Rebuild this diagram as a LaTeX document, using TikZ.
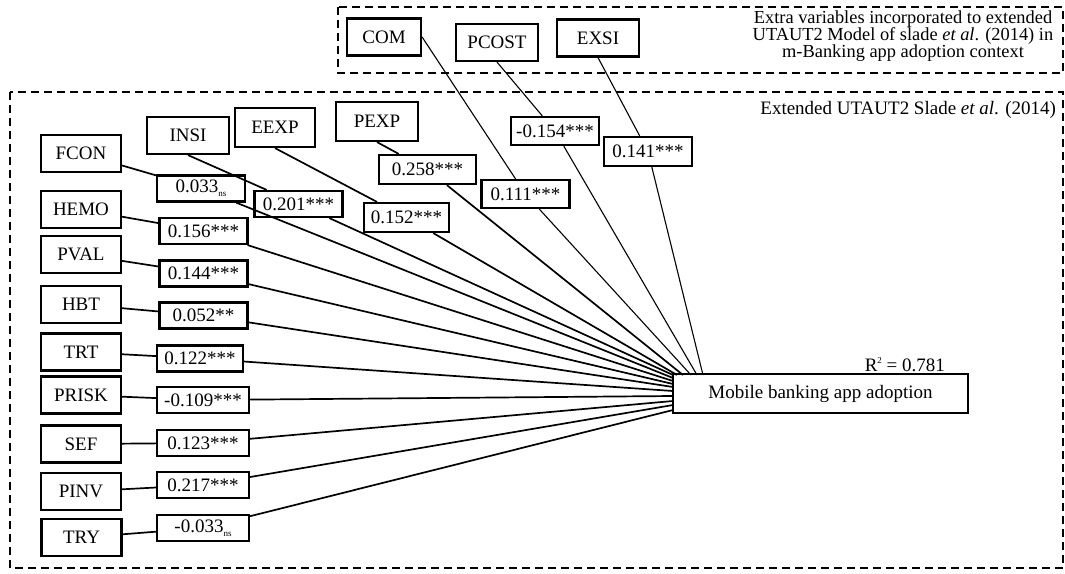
\documentclass[tikz,border=0pt]{standalone}
\usepackage{fontspec}
\setmainfont{Liberation Serif}
\usepackage{tikz}

\newcommand{\nsub}{\raisebox{-0.5ex}{\fontsize{4.5}{4.5}\selectfont ns}}
\newcommand{\rtwo}{\raisebox{0.9ex}{\fontsize{4.5}{4.5}\selectfont 2}}

\begin{document}
\begin{tikzpicture}[x=0.5pt,y=-0.5pt,
    var/.style={shape=rectangle, draw, line width=1.1pt, minimum width=40pt, minimum height=18.5pt, inner sep=0pt, font=\fontsize{9.5}{11}\selectfont},
    coef/.style={shape=rectangle, draw, line width=1.1pt, fill=white, minimum width=44pt, minimum height=13pt, inner sep=1pt, font=\fontsize{9.5}{11}\selectfont},
    link/.style={line width=0.85pt},
    thinlink/.style={line width=0.55pt},
    frame/.style={line width=1.1pt, dash pattern=on 4pt off 2.5pt}]
    \useasboundingbox (0,0) rectangle (1065,573);

    \draw[frame] (10,92) rectangle (1063,568);
    \draw[frame] (338,7) rectangle (1063,73);

    \node[align=center, font=\fontsize{9.2}{8.6}\selectfont] (extra) at (903,36) {Extra variables incorporated to extended\\UTAUT2 Model of slade \textit{et al}. (2014) in\\m-Banking app adoption context};
    \node[anchor=east, font=\fontsize{9.5}{11}\selectfont] (utaut) at (1063,110) {Extended UTAUT2 Slade \textit{et al}. (2014)};

    % predictors
    \node[var] (fcon) at (81,153.5) {FCON};
    \node[var] (hemo) at (81,209.5) {HEMO};
    \node[var] (pval) at (81,254.5) {PVAL};
    \node[var] (hbt) at (81,304.5) {HBT};
    \node[var] (trt) at (81,352) {TRT};
    \node[var] (prisk) at (81,395) {PRISK};
    \node[var] (sef) at (81,444) {SEF};
    \node[var] (pinv) at (81,491.5) {PINV};
    \node[var] (try) at (81.5,537.5) {TRY};
    \node[var, minimum width=41pt] (insi) at (188,135.5) {INSI};
    \node[var, minimum height=19.5pt] (eexp) at (275,127.5) {EEXP};
    \node[var, minimum width=41pt, minimum height=19.5pt] (pexp) at (377,121.5) {PEXP};
    \node[var, minimum width=37pt] (com) at (384,37) {COM};
    \node[var, minimum width=41pt] (pcost) at (497,42.5) {PCOST};
    \node[var, minimum width=41pt] (exsi) at (598,38) {EXSI};

    % outcome
    \node[var, minimum width=147.5pt, minimum height=19.5pt] (adopt) at (820.5,393.5) {Mobile banking app adoption};
    \node[anchor=base east, font=\fontsize{9.5}{11}\selectfont] (rsq) at (952,371) {R\rtwo{} = 0.781};

    % path coefficients
    \node[coef] (c_fcon) at (201,188.5) {0.033\nsub};
    \node[coef] (c_insi) at (298.5,204) {0.201***};
    \node[coef, minimum width=42.5pt, minimum height=14.5pt] (c_eexp) at (406.5,217.5) {0.152***};
    \node[coef, minimum width=48.5pt, minimum height=14.5pt] (c_pexp) at (427.5,169.5) {0.258***};
    \node[coef, minimum height=14pt] (c_com) at (525.5,194) {0.111***};
    \node[coef, minimum height=14pt] (c_pcost) at (555,131) {-0.154***};
    \node[coef, minimum height=14.5pt] (c_exsi) at (648,151.5) {0.141***};
    \node[coef] (c_hemo) at (203.5,231) {0.156***};
    \node[coef] (c_pval) at (203.5,273.5) {0.144***};
    \node[coef] (c_hbt) at (203.5,315.5) {0.052**};
    \node[coef, minimum width=43pt] (c_trt) at (200,358.5) {0.122***};
    \node[coef, minimum width=46pt] (c_prisk) at (203,400) {-0.109***};
    \node[coef, minimum width=46pt] (c_sef) at (203,443) {0.123***};
    \node[coef, minimum width=46pt] (c_pinv) at (203,485) {0.217***};
    \node[coef, minimum width=46pt] (c_try) at (203,528) {-0.033\nsub};

    % ends on the outcome box
    \coordinate (e_insi) at (673,375);
    \coordinate (e_eexp) at (677,375);
    \coordinate (e_pexp) at (683,375);
    \coordinate (e_com) at (691,375);
    \coordinate (e_pcost) at (697,375);
    \coordinate (e_exsi) at (703,375);
    \coordinate (e_fcon) at (673,378);
    \coordinate (e_hemo) at (673,381);
    \coordinate (e_pval) at (673,384);
    \coordinate (e_hbt) at (673,387);
    \coordinate (e_trt) at (673,391);
    \coordinate (e_prisk) at (673,396);
    \coordinate (e_sef) at (673,401);
    \coordinate (e_pinv) at (673,405);
    \coordinate (e_try) at (673,410);

    \draw[link] (fcon) -- (c_fcon) (c_fcon) -- (e_fcon);
    \draw[link] (hemo) -- (c_hemo) (c_hemo) -- (e_hemo);
    \draw[link] (pval) -- (c_pval) (c_pval) -- (e_pval);
    \draw[link] (hbt) -- (c_hbt) (c_hbt) -- (e_hbt);
    \draw[link] (trt) -- (c_trt) (c_trt) -- (e_trt);
    \draw[link] (prisk) -- (c_prisk) (c_prisk) -- (e_prisk);
    \draw[link] (sef) -- (c_sef) (c_sef) -- (e_sef);
    \draw[link] (pinv) -- (c_pinv) (c_pinv) -- (e_pinv);
    \draw[link] (try) -- (c_try) (c_try) -- (e_try);
    \draw[link] (insi.south) -- (c_insi) (c_insi) -- (e_insi);
    \draw[link] (eexp.south) -- (c_eexp) (c_eexp) -- (e_eexp);
    \draw[link] (pexp.south) -- (c_pexp) (c_pexp) -- (e_pexp);
    \draw[thinlink] (com.east) -- (c_com) (c_com) -- (e_com);
    \draw[thinlink] (pcost.south) -- (c_pcost) (c_pcost) -- (e_pcost);
    \draw[thinlink] (exsi.south) -- (c_exsi) (c_exsi) -- (e_exsi);
\end{tikzpicture}
\end{document}
